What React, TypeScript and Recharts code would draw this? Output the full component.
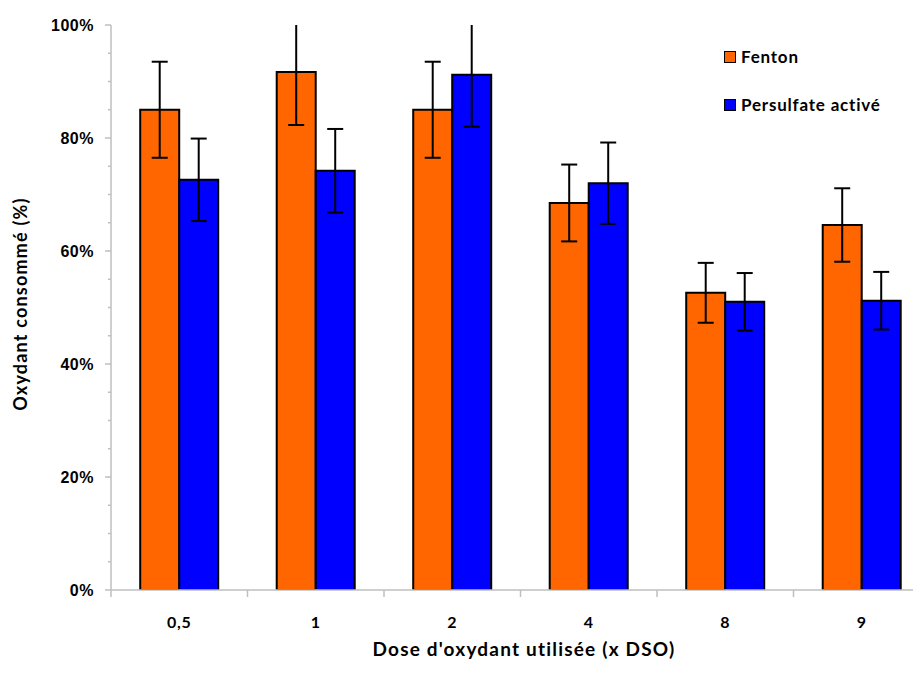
import { BarChart, Bar, XAxis, YAxis, ErrorBar } from "recharts";

const doses = ["0,5", "1", "2", "4", "8", "9"];
const fenton = [85, 91.7, 85, 68.5, 52.6, 64.6];
const fentonErr = [8.5, 9.4, 8.5, 6.8, 5.3, 6.5];
const persulfate = [72.6, 74.2, 91.2, 72, 51, 51.2];
const persulfateErr = [7.3, 7.4, 9.2, 7.2, 5.1, 5.1];
const yTicks = [0, 5, 10, 15, 20, 25, 30, 35, 40, 45, 50, 55, 60, 65, 70, 75, 80, 85, 90, 95, 100];

const data = doses.map((dose, i) => ({
  dose,
  fenton: fenton[i],
  fentonErr: fentonErr[i],
  persulfate: persulfate[i],
  persulfateErr: persulfateErr[i],
}));

const AXIS = "#bfbfbf";
const BAND = 136.5;

const YTick = (props: any) => {
  const { x, y, payload } = props;
  const major = payload.value % 20 === 0;
  return (
    <g>
      <line x1={x - (major ? 6 : 3)} x2={x} y1={y} y2={y} stroke={AXIS} strokeWidth={1.5} />
      {major && (
        <text
          x={x - 17}
          y={y}
          dy={6}
          textAnchor="end"
          fontFamily="Liberation Sans, Arial, sans-serif"
          fontWeight="bold"
          fontSize={16}
          letterSpacing={0.5}
          fill="#000"
        >
          {payload.value}%
        </text>
      )}
    </g>
  );
};

const XTick = (props: any) => {
  const { x, y, payload } = props;
  return (
    <g>
      <line x1={x - BAND / 2} x2={x - BAND / 2} y1={y} y2={y + 7} stroke={AXIS} strokeWidth={1.5} />
      <text
        x={x}
        y={y}
        dy={38}
        textAnchor="middle"
        fontFamily="Lato, sans-serif"
        fontWeight="bold"
        fontSize={16}
        letterSpacing={0.8}
        fill="#000"
      >
        {payload.value}
      </text>
    </g>
  );
};

const LegendItem = ({ top, color, label }: { top: number; color: string; label: string }) => (
  <div style={{ position: "absolute", left: 716, top, display: "flex", alignItems: "center" }}>
    <div style={{ width: 10, height: 10, background: color, border: "1.5px solid #000" }} />
    <span
      style={{
        marginLeft: 5,
        fontFamily: "Lato, sans-serif",
        fontWeight: "bold",
        fontSize: 17,
        letterSpacing: 0.8,
      }}
    >
      {label}
    </span>
  </div>
);

export default function App() {
  return (
    <div style={{ position: "relative", width: 913, height: 676, overflow: "hidden", background: "#fff" }}>
      <BarChart
        width={960}
        height={676}
        data={data}
        margin={{ top: 17, right: 38, bottom: 64, left: 0 }}
        barCategoryGap="21.4%"
        barGap={0}
      >
        <XAxis
          dataKey="dose"
          axisLine={{ stroke: AXIS, strokeWidth: 1.5 }}
          tickLine={false}
          tickSize={0}
          tickMargin={0}
          height={30}
          tick={<XTick />}
          interval={0}
        />
        <YAxis
          domain={[0, 100]}
          ticks={yTicks}
          allowDataOverflow
          width={103}
          axisLine={{ stroke: AXIS, strokeWidth: 1.5 }}
          tickLine={false}
          tickSize={0}
          tickMargin={0}
          tick={<YTick />}
          interval={0}
        />
        <Bar dataKey="fenton" fill="#ff6600" stroke="#000" strokeWidth={2} isAnimationActive={false}>
          <ErrorBar dataKey="fentonErr" width={8} stroke="#000" strokeWidth={2} />
        </Bar>
        <Bar dataKey="persulfate" fill="#0000ff" stroke="#000" strokeWidth={2} isAnimationActive={false}>
          <ErrorBar dataKey="persulfateErr" width={8} stroke="#000" strokeWidth={2} />
        </Bar>
      </BarChart>
      {/* the plot area stops at 100%: hide what error bars draw above it */}
      <div style={{ position: "absolute", left: 105, top: 0, width: 808, height: 17, background: "#fff" }} />
      <div
        style={{
          position: "absolute",
          left: 12,
          top: 296,
          transform: "translate(-50%, -50%) rotate(-90deg)",
          whiteSpace: "nowrap",
          fontFamily: "Lato, sans-serif",
          fontWeight: "bold",
          fontSize: 18,
          letterSpacing: 1.2,
        }}
      >
        Oxydant consommé (%)
      </div>
      <div
        style={{
          position: "absolute",
          left: 516,
          top: 640,
          transform: "translate(-50%, -50%)",
          whiteSpace: "nowrap",
          fontFamily: "Lato, sans-serif",
          fontWeight: "bold",
          fontSize: 19,
          letterSpacing: 1.2,
        }}
      >
        Dose d'oxydant utilisée (x DSO)
      </div>
      <LegendItem top={38} color="#ff6600" label="Fenton" />
      <LegendItem top={86} color="#0000ff" label="Persulfate activé" />
    </div>
  );
}
